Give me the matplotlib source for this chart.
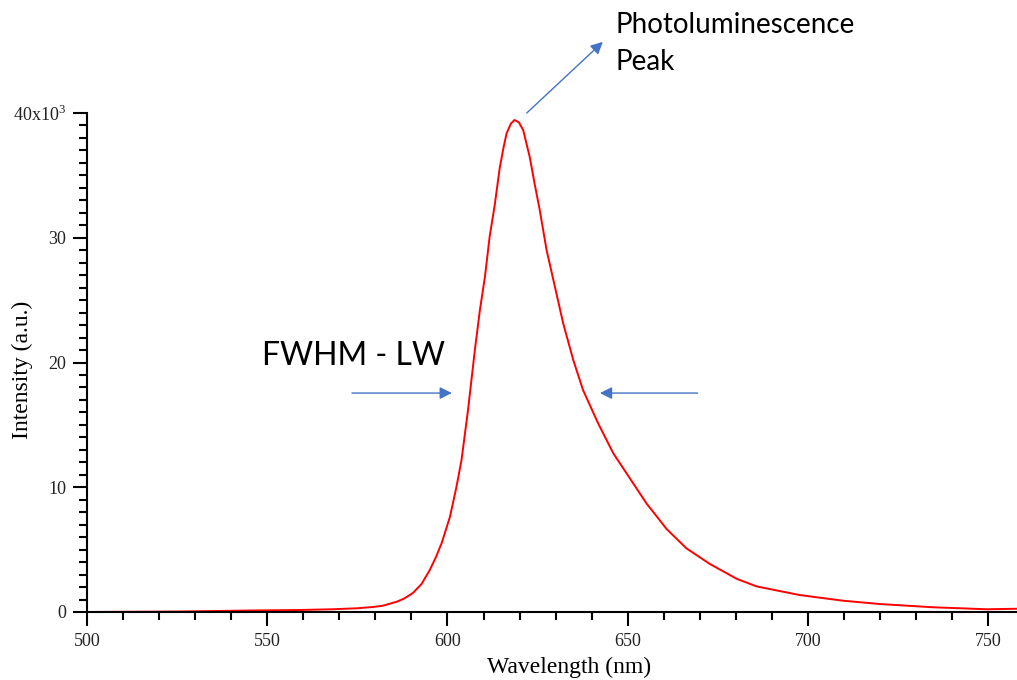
import matplotlib
matplotlib.use("Agg")
import matplotlib.pyplot as plt
from matplotlib.ticker import MultipleLocator, FixedLocator, FixedFormatter

# PL spectrum (nm, counts)
wavelength = [500, 525.8, 545.2, 559.1, 568.2, 575.0, 579.3, 582.0, 586.0, 588.0,
              590.4, 592.8, 595.1, 596.8, 598.4, 600.7, 602.5, 603.9, 605.7, 607.6,
              609.0, 610.4, 611.7, 613.1, 614.5, 615.6, 616.4, 617.6, 618.6, 619.8,
              621.0, 622.8, 624.2, 625.6, 627.5, 629.8, 632.1, 634.9, 637.6, 641.8,
              646.0, 649.7, 655.2, 660.8, 666.3, 672.8, 680.3, 685.8, 697.7, 709.6,
              719.9, 734.6, 749.6, 758]
intensity = [0, 40, 120, 160, 220, 300, 400, 500, 830, 1080,
             1520, 2240, 3370, 4400, 5530, 7640, 10040, 12180, 16190, 21000,
             24210, 26880, 30080, 32600, 35600, 37300, 38370, 39150, 39440, 39250,
             38640, 36500, 34300, 32220, 29010, 26080, 23140, 20200, 17800, 15120,
             12720, 11110, 8710, 6650, 5100, 3850, 2650, 2050, 1360, 910,
             640, 380, 220, 260]

x_major = [500, 550, 600, 650, 700, 750]
y_major = [0, 10000, 20000, 30000, 40000]
y_labels = ["0", "10", "20", "30", r"40x10$^{\mathregular{3}}$"]

# FWHM markers and peak pointer (data coords: tail, head)
fwhm_left = ((573.5, 17550), (601.2, 17550))
fwhm_right = ((669.4, 17550), (642.3, 17550))
peak_arrow = ((622.0, 40000), (643.1, 45700))

serif = "Liberation Serif"
sans = "Lato"
blue = "#4472C4"

fig = plt.figure(figsize=(10.17, 6.8), dpi=100)
ax = fig.add_axes([87 / 1017, 68 / 680, 930 / 1017, 499 / 680])

ax.plot(wavelength, intensity, color="red", lw=1.4)

ax.set_xlim(500, 758)
ax.set_ylim(0, 40000)

for side in ("top", "right"):
    ax.spines[side].set_visible(False)
for side in ("left", "bottom"):
    ax.spines[side].set_linewidth(1.5)

ax.xaxis.set_major_locator(FixedLocator(x_major))
ax.xaxis.set_minor_locator(MultipleLocator(10))
ax.yaxis.set_major_locator(FixedLocator(y_major))
ax.yaxis.set_major_formatter(FixedFormatter(y_labels))
ax.yaxis.set_minor_locator(MultipleLocator(1000))

ax.tick_params(which="major", direction="out", length=10, width=1.5,
               labelsize=13, colors="black")
ax.tick_params(which="minor", direction="out", length=6, width=1.5)
ax.tick_params(axis="x", pad=5)
ax.tick_params(axis="y", pad=5)
for lbl in ax.get_xticklabels() + ax.get_yticklabels():
    lbl.set_fontfamily(serif)
    lbl.set_color("#222222")

ax.set_xlabel("Wavelength (nm)", fontfamily=serif, fontsize=17)
ax.set_ylabel("Intensity (a.u.)", fontfamily=serif, fontsize=17)
ax.xaxis.set_label_coords(0.518, -0.089)
ax.yaxis.set_label_coords(-0.058, 0.485)

arrow_kw = dict(arrowstyle="-|>", color=blue, lw=1.0, mutation_scale=18,
                shrinkA=0, shrinkB=0)
for tail, head in (fwhm_left, fwhm_right, peak_arrow):
    ax.annotate("", xy=head, xytext=tail, xycoords="data",
                arrowprops=arrow_kw, annotation_clip=False)

fig.text(615 / 1017, 1 - 33 / 680, "Photoluminescence", fontfamily=sans,
         fontsize=20, va="baseline", ha="left")
fig.text(615 / 1017, 1 - 70 / 680, "Peak", fontfamily=sans,
         fontsize=20, va="baseline", ha="left")
fig.text(262 / 1017, 1 - 365 / 680, "FWHM - LW", fontfamily=sans,
         fontsize=23, va="baseline", ha="left")

fig.savefig("out.png", dpi=100)
